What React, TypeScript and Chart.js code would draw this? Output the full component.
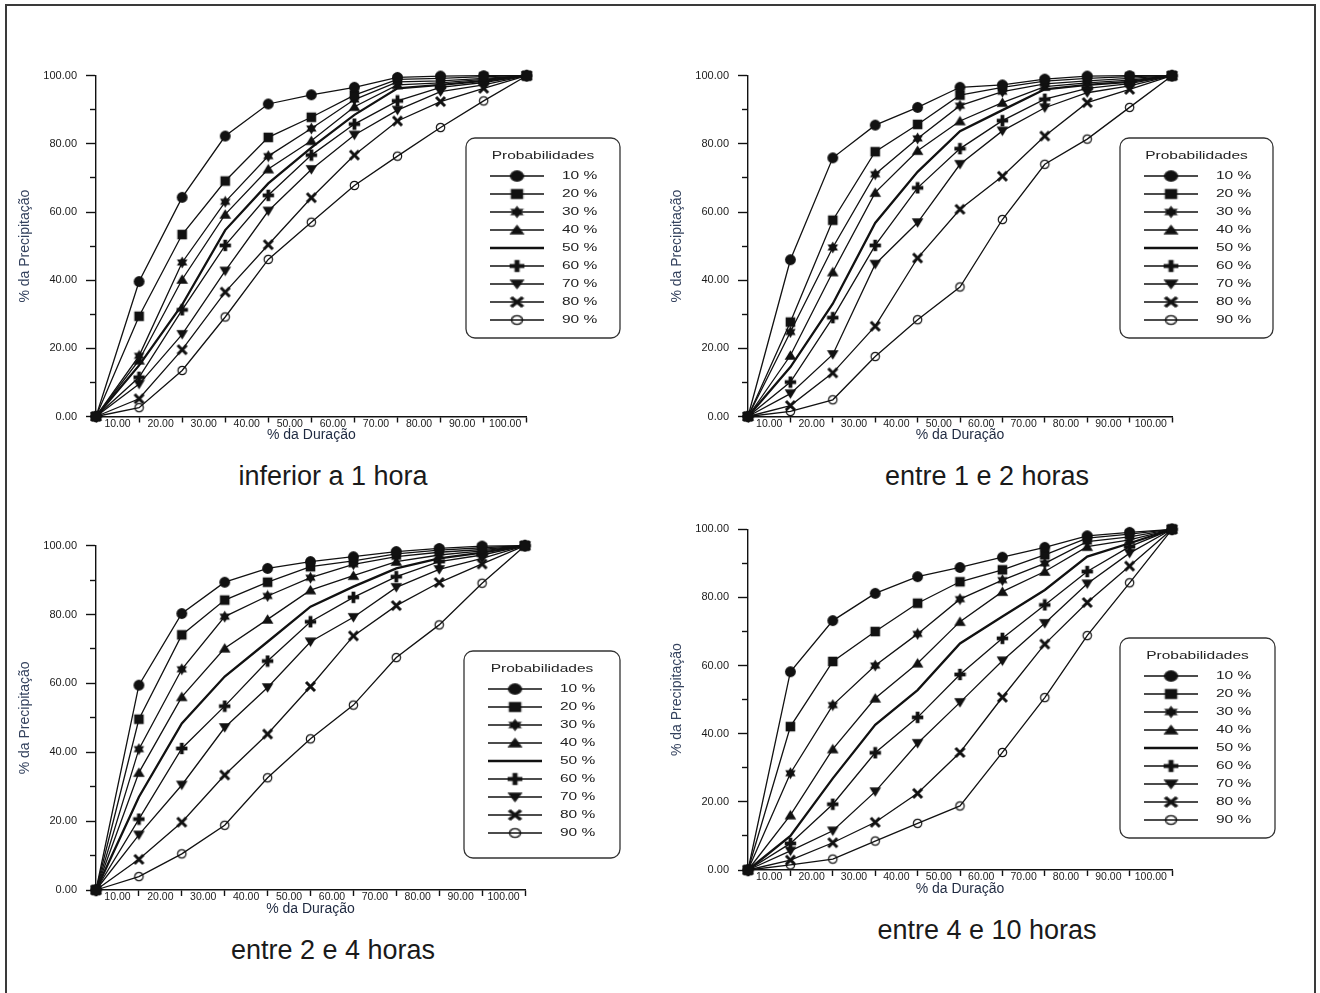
import React, { useEffect, useRef } from "react";
import { Chart, registerables } from "chart.js";

Chart.register(...registerables);

// ---------- data ----------
const durations = [0, 10, 20, 30, 40, 50, 60, 70, 80, 90, 100];
const probLabels = ["10 %", "20 %", "30 %", "40 %", "50 %", "60 %", "70 %", "80 %", "90 %"];
const yTickValues = [0, 10, 20, 30, 40, 50, 60, 70, 80, 90, 100];
const xTickValues = [0, 5, 10, 15, 20, 25, 30, 35, 40, 45, 50, 55, 60, 65, 70, 75, 80, 85, 90, 95, 100];

// inferior a 1 hora
const a10 = [0, 39.6, 64.3, 82.3, 91.7, 94.4, 96.6, 99.5, 99.9, 100, 100];
const a20 = [0, 29.4, 53.4, 69.1, 81.9, 87.8, 94.3, 98.9, 99.2, 99.7, 100];
const a30 = [0, 17.8, 45.2, 63.0, 76.4, 84.5, 93.0, 98.2, 98.5, 99.2, 100];
const a40 = [0, 16.5, 40.2, 59.3, 72.6, 80.9, 90.9, 97.3, 97.9, 98.9, 100];
const a50 = [0, 15.0, 32.8, 54.7, 68.4, 78.9, 88.5, 96.3, 97.3, 98.5, 100];
const a60 = [0, 11.5, 31.3, 50.2, 64.9, 76.7, 85.8, 92.6, 96.6, 98.0, 100];
const a70 = [0, 9.5, 24.1, 42.7, 60.3, 72.5, 82.6, 89.9, 95.3, 97.3, 100];
const a80 = [0, 5.2, 19.6, 36.5, 50.4, 64.2, 76.7, 86.7, 92.4, 96.3, 100];
const a90 = [0, 2.6, 13.5, 29.2, 46.1, 57.0, 67.8, 76.4, 84.8, 92.6, 100];

// entre 1 e 2 horas
const b10 = [0, 46.0, 75.9, 85.5, 90.7, 96.6, 97.3, 99.0, 99.9, 100, 100];
const b20 = [0, 27.7, 57.6, 77.7, 85.7, 94.3, 96.6, 98.4, 99.2, 99.7, 100];
const b30 = [0, 24.8, 49.6, 71.1, 81.6, 91.2, 95.3, 97.6, 98.5, 99.2, 100];
const b40 = [0, 17.9, 42.4, 65.7, 78.0, 86.7, 92.1, 96.8, 97.9, 98.7, 100];
const b50 = [0, 14.5, 33.1, 56.8, 71.8, 83.7, 89.9, 96.0, 97.3, 98.2, 100];
const b60 = [0, 10.1, 29.0, 50.2, 67.1, 78.6, 86.8, 93.1, 96.3, 97.7, 100];
const b70 = [0, 6.7, 18.2, 44.7, 56.9, 74.0, 83.8, 90.6, 95.0, 97.0, 100];
const b80 = [0, 3.2, 12.8, 26.5, 46.5, 60.8, 70.5, 82.3, 92.1, 96.0, 100];
const b90 = [0, 1.5, 4.9, 17.6, 28.4, 38.0, 57.8, 74.0, 81.4, 90.7, 100];

// entre 2 e 4 horas
const c10 = [0, 59.5, 80.3, 89.4, 93.4, 95.4, 96.8, 98.3, 99.2, 99.9, 100];
const c20 = [0, 49.6, 74.1, 84.2, 89.4, 93.9, 95.6, 97.6, 98.7, 99.4, 100];
const c30 = [0, 40.9, 64.1, 79.4, 85.4, 90.7, 94.6, 96.8, 98.1, 98.9, 100];
const c40 = [0, 34.1, 56.1, 70.2, 78.6, 87.1, 91.3, 95.4, 97.3, 98.5, 100];
const c50 = [0, 27.0, 48.4, 62.0, 72.1, 82.3, 88.1, 93.4, 96.3, 98.0, 100];
const c60 = [0, 20.6, 41.1, 53.4, 66.5, 77.9, 85.0, 91.0, 95.4, 97.3, 100];
const c70 = [0, 16.0, 30.5, 47.2, 58.8, 72.1, 79.2, 87.9, 93.1, 96.3, 100];
const c80 = [0, 8.9, 19.7, 33.4, 45.3, 59.1, 73.8, 82.6, 89.3, 94.7, 100];
const c90 = [0, 3.9, 10.5, 18.8, 32.6, 43.9, 53.7, 67.5, 77.0, 89.1, 100];

// entre 4 e 10 horas
const d10 = [0, 58.2, 73.2, 81.2, 86.1, 88.8, 91.8, 94.7, 98.1, 99.1, 100];
const d20 = [0, 42.1, 61.2, 70.0, 78.3, 84.6, 88.1, 92.5, 97.4, 98.6, 100];
const d30 = [0, 28.4, 48.4, 60.0, 69.3, 79.5, 85.1, 90.0, 96.4, 97.8, 100];
const d40 = [0, 16.1, 35.5, 50.4, 60.7, 72.9, 81.7, 87.6, 94.9, 96.9, 100];
const d50 = [0, 10.0, 26.9, 42.6, 52.8, 66.5, 74.4, 82.2, 92.0, 95.9, 100];
const d60 = [0, 7.8, 19.3, 34.4, 44.8, 57.4, 68.0, 77.8, 87.6, 94.9, 100];
const d70 = [0, 5.6, 11.5, 23.0, 37.2, 49.2, 61.4, 72.4, 84.0, 93.0, 100];
const d80 = [0, 2.9, 8.0, 14.0, 22.5, 34.5, 50.7, 66.3, 78.5, 89.2, 100];
const d90 = [0, 1.5, 3.2, 8.5, 13.7, 18.8, 34.5, 50.6, 68.8, 84.3, 100];

const panelTitles = ["inferior a 1 hora", "entre 1 e 2 horas", "entre 2 e 4 horas", "entre 4 e 10 horas"];
const xTitle = "% da Duração";
const yTitle = "% da Precipitação";
const legendTitle = "Probabilidades";

// ---------- layout (page px) ----------
const FONT = '"Liberation Sans", Arial, Helvetica, sans-serif';
const INK = "#111";

type Geo = { L: number; T: number; R: number; B: number; lg: { x: number; y: number; w: number; h: number }; tx: number; ty: number };
const geos: Geo[] = [
  { L: 96, T: 75.7, R: 526.7, B: 416.5, lg: { x: 466, y: 138, w: 154, h: 200 }, tx: 333, ty: 476 },
  { L: 748, T: 75.7, R: 1172, B: 416.5, lg: { x: 1120, y: 138, w: 153, h: 200 }, tx: 987, ty: 476 },
  { L: 96, T: 545.7, R: 525, B: 890, lg: { x: 464, y: 651, w: 156, h: 207 }, tx: 333, ty: 950 },
  { L: 748, T: 529.3, R: 1172, B: 870, lg: { x: 1120, y: 638, w: 155, h: 200 }, tx: 987, ty: 930 },
];
const panelSeries = [
  [a10, a20, a30, a40, a50, a60, a70, a80, a90],
  [b10, b20, b30, b40, b50, b60, b70, b80, b90],
  [c10, c20, c30, c40, c50, c60, c70, c80, c90],
  [d10, d20, d30, d40, d50, d60, d70, d80, d90],
];
const markerKinds = ["circle", "square", "star", "triUp", "none", "plus", "triDown", "cross", "open"];

// ---------- markers ----------
function makeMarker(kind: string): HTMLCanvasElement {
  const s = 13;
  const c = document.createElement("canvas");
  c.width = s;
  c.height = s;
  const g = c.getContext("2d") as CanvasRenderingContext2D;
  const m = s / 2;
  g.fillStyle = INK;
  g.strokeStyle = INK;
  g.beginPath();
  switch (kind) {
    case "circle":
      g.arc(m, m, 5.4, 0, Math.PI * 2);
      g.fill();
      break;
    case "square":
      g.fillRect(m - 4.8, m - 4.8, 9.6, 9.6);
      break;
    case "star": {
      const R = 6;
      for (const start of [-90, 90]) {
        g.beginPath();
        for (let k = 0; k < 3; k++) {
          const a = ((start + k * 120) * Math.PI) / 180;
          const px = m + R * Math.cos(a);
          const py = m + R * Math.sin(a);
          if (k === 0) g.moveTo(px, py);
          else g.lineTo(px, py);
        }
        g.closePath();
        g.fill();
      }
      break;
    }
    case "triUp":
      g.moveTo(m, m - 5.2);
      g.lineTo(m + 5.8, m + 4.2);
      g.lineTo(m - 5.8, m + 4.2);
      g.closePath();
      g.fill();
      break;
    case "triDown":
      g.moveTo(m - 5.8, m - 4.2);
      g.lineTo(m + 5.8, m - 4.2);
      g.lineTo(m, m + 5.2);
      g.closePath();
      g.fill();
      break;
    case "plus":
      g.fillRect(m - 1.9, m - 5.7, 3.8, 11.4);
      g.fillRect(m - 5.7, m - 1.9, 11.4, 3.8);
      break;
    case "cross":
      g.lineWidth = 3;
      g.moveTo(m - 4.5, m - 4.5);
      g.lineTo(m + 4.5, m + 4.5);
      g.moveTo(m + 4.5, m - 4.5);
      g.lineTo(m - 4.5, m + 4.5);
      g.stroke();
      break;
    case "open":
      g.lineWidth = 1.2;
      g.arc(m, m, 4.2, 0, Math.PI * 2);
      g.stroke();
      break;
  }
  return c;
}

function drawStretched(ctx: CanvasRenderingContext2D, text: string, x: number, y: number, align: CanvasTextAlign) {
  ctx.save();
  ctx.translate(x, y);
  ctx.scale(1.55, 1);
  ctx.font = `10px ${FONT}`;
  ctx.textBaseline = "middle";
  ctx.textAlign = align;
  ctx.fillStyle = "#222";
  ctx.fillText(text, 0, 0);
  ctx.restore();
}

const legendPlugin = {
  id: "probLegend",
  afterDraw(chart: any, _args: any, opts: any) {
    const ctx: CanvasRenderingContext2D = chart.ctx;
    const { x, y, w, h } = opts;
    ctx.save();
    ctx.beginPath();
    (ctx as any).roundRect(x, y, w, h, 9);
    ctx.lineWidth = 1.3;
    ctx.strokeStyle = "#333";
    ctx.stroke();
    drawStretched(ctx, legendTitle, x + w / 2, y + 18, "center");
    chart.data.datasets.forEach((ds: any, i: number) => {
      const ry = y + 38 + i * 18;
      const x1 = x + 24;
      const x2 = x + 78;
      ctx.beginPath();
      ctx.moveTo(x1, ry);
      ctx.lineTo(x2, ry);
      ctx.lineWidth = ds.pointRadius > 0 ? 1.4 : 2.6;
      ctx.strokeStyle = INK;
      ctx.stroke();
      if (ds.pointRadius > 0 && ds.pointStyle && ds.pointStyle.width) {
        const img = ds.pointStyle as HTMLCanvasElement;
        const mw = img.width * 1.3;
        const mh = img.height * 1.05;
        ctx.drawImage(img, (x1 + x2) / 2 - mw / 2, ry - mh / 2, mw, mh);
      }
      drawStretched(ctx, ds.label, x + 96, ry, "left");
    });
    ctx.restore();
  },
};

function Panel({ idx }: { idx: number }) {
  const ref = useRef<HTMLCanvasElement | null>(null);
  const g = geos[idx];
  const cx = g.L - 86;
  const cy = Math.floor(g.T) - 16;
  const cw = 620;
  const ch = Math.ceil(g.B + 36) - cy;
  const padTop = g.T - cy;
  const padRight = cx + cw - g.R;
  const xScaleH = cy + ch - g.B;
  const yScaleW = g.L - cx;
  const xTitlePadBottom = cy + ch - (g.B + 19) - 8.4;

  useEffect(() => {
    if (!ref.current) return;
    const markers = markerKinds.map((k) => (k === "none" ? null : makeMarker(k)));
    const datasets = panelSeries[idx].map((arr, i) => ({
      label: probLabels[i],
      data: arr.map((v, j) => ({ x: durations[j], y: v })),
      borderColor: INK,
      backgroundColor: INK,
      borderWidth: markerKinds[i] === "none" ? 2.3 : 1.3,
      pointStyle: markers[i] || "circle",
      pointRadius: markerKinds[i] === "none" ? 0 : 5,
      tension: 0,
      fill: false,
      clip: false,
    }));
    const chart = new Chart(ref.current, {
      type: "line",
      data: { datasets } as any,
      plugins: [legendPlugin as any],
      options: {
        animation: false,
        responsive: false,
        devicePixelRatio: 1,
        events: [],
        layout: { padding: { top: padTop, right: padRight, left: 0, bottom: 0 } },
        plugins: {
          legend: { display: false },
          tooltip: { enabled: false },
          probLegend: { x: g.lg.x - cx, y: g.lg.y - cy, w: g.lg.w, h: g.lg.h },
        } as any,
        scales: {
          x: {
            type: "linear",
            min: 0,
            max: 100,
            afterBuildTicks: (s: any) => {
              s.ticks = xTickValues.map((v) => ({ value: v }));
            },
            afterFit: (s: any) => {
              s.height = xScaleH;
            },
            ticks: {
              autoSkip: false,
              maxRotation: 0,
              minRotation: 0,
              padding: -4.8,
              color: "#1a1a1a",
              font: { family: FONT, size: 10.5 },
              callback: (v: any) => (Number(v) % 10 === 5 ? (Number(v) + 5).toFixed(2) : ""),
            },
            grid: {
              drawOnChartArea: false,
              drawTicks: true,
              tickLength: 6,
              tickColor: INK,
              tickWidth: (c: any) => (c.tick && c.tick.value % 10 === 0 ? 1.4 : 0),
            },
            border: { display: true, color: INK, width: 1.4 },
            title: {
              display: true,
              text: xTitle,
              color: "#1e2940",
              font: { family: FONT, size: 14 },
              padding: { top: 0, bottom: xTitlePadBottom },
            },
          },
          y: {
            type: "linear",
            min: 0,
            max: 100,
            afterBuildTicks: (s: any) => {
              s.ticks = yTickValues.map((v) => ({ value: v }));
            },
            afterFit: (s: any) => {
              s.width = yScaleW;
            },
            ticks: {
              autoSkip: false,
              padding: 9,
              color: "#1a1a1a",
              font: { family: FONT, size: 11 },
              callback: (v: any) => (Number(v) % 20 === 0 ? Number(v).toFixed(2) : ""),
            },
            grid: {
              drawOnChartArea: false,
              drawTicks: true,
              tickLength: 10,
              tickColor: INK,
              tickWidth: 1.4,
              tickBorderDash: (c: any) => (c.tick && c.tick.value % 20 === 0 ? [] : [6, 50]),
              tickBorderDashOffset: (c: any) => (c.tick && c.tick.value % 20 === 0 ? 0 : 52),
            },
            border: { display: true, color: INK, width: 1.4 },
            title: {
              display: true,
              text: yTitle,
              color: "#34425e",
              font: { family: FONT, size: 14 },
              padding: { top: 6.6, bottom: 0 },
            },
          },
        },
      } as any,
    });
    return () => chart.destroy();
  }, []);

  return (
    <>
      <canvas
        ref={ref}
        width={cw}
        height={ch}
        style={{ position: "absolute", left: cx, top: cy, width: cw, height: ch }}
      />
      <div
        style={{
          position: "absolute",
          left: g.tx - 200,
          top: g.ty - 16,
          width: 400,
          height: 32,
          lineHeight: "32px",
          textAlign: "center",
          fontFamily: FONT,
          fontSize: 27,
          color: "#1a1a1a",
        }}
      >
        {panelTitles[idx]}
      </div>
    </>
  );
}

export default function App() {
  Chart.defaults.font.family = FONT;
  return (
    <div
      style={{
        position: "absolute",
        left: 0,
        top: 0,
        width: 1320,
        height: 993,
        overflow: "hidden",
        background: "#fff",
      }}
    >
      <div
        style={{
          position: "absolute",
          left: 5,
          top: 4,
          width: 1311,
          height: 1010,
          boxSizing: "border-box",
          border: "2px solid #3a3a3a",
        }}
      />
      {[0, 1, 2, 3].map((i) => (
        <Panel key={i} idx={i} />
      ))}
    </div>
  );
}
